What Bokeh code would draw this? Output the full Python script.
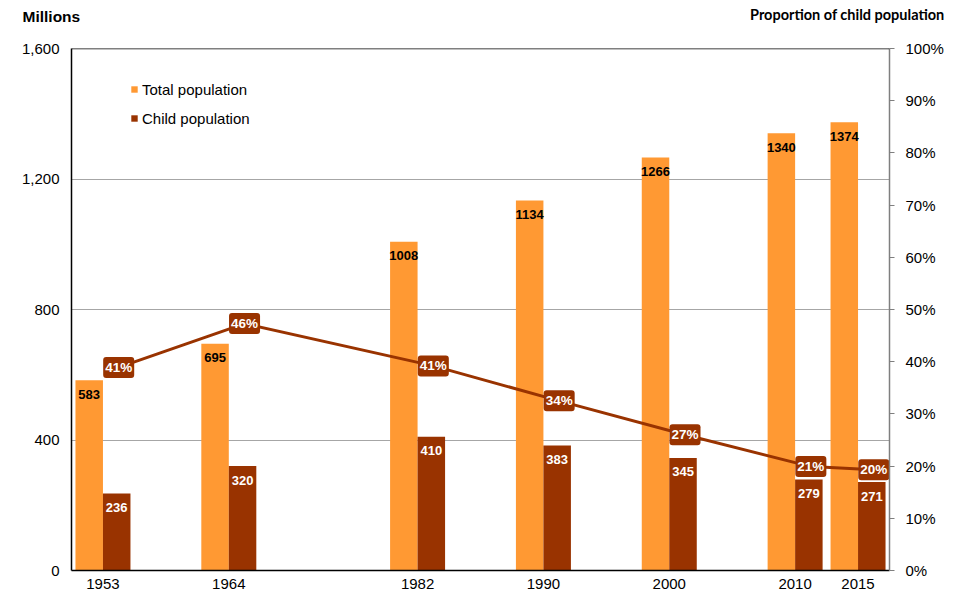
from bokeh.plotting import figure
from bokeh.layouts import column, row
from bokeh.models import (Range1d, LinearAxis, FixedTicker, NumeralTickFormatter, Span,
                          Legend, LegendItem, ColumnDataSource)
from bokeh.transform import dodge
from bokeh.core.properties import value
from bokeh.embed import file_html
from bokeh.resources import INLINE

# ---- data ----
axis_slots = ["1953", "", "1964", "", "", "1982", "", "1990", "", "2000", "", "2010", "2015"]
years = ["1953", "1964", "1982", "1990", "2000", "2010", "2015"]
total_pop = [583, 695, 1008, 1134, 1266, 1340, 1374]
child_pop = [236, 320, 410, 383, 345, 279, 271]
child_share = [38.9, 47.3, 39.2, 32.5, 26.0, 19.9, 19.3]          # plotted position (%)
child_share_labels = ["41%", "46%", "41%", "34%", "27%", "21%", "20%"]
left_ticks = [0, 400, 800, 1200, 1600]
right_ticks = [0, 10, 20, 30, 40, 50, 60, 70, 80, 90, 100]
left_title = "Millions"
right_title = "Proportion of child population"

ORANGE = "#FF9933"
BROWN = "#993300"
FONT = "Liberation Sans"
W = 964
HEAD_H = 30

slot = [axis_slots.index(y) for y in years]
src = ColumnDataSource(dict(
    slot=slot, total=total_pop, child=child_pop, share=child_share,
    total_label=[str(v) for v in total_pop], child_label=[str(v) for v in child_pop],
    share_label=child_share_labels,
))

# ---- header strip with the two axis titles ----
head = figure(width=W, height=HEAD_H, output_backend="svg", toolbar_location=None,
              x_range=Range1d(0, W), y_range=Range1d(HEAD_H, 0),
              x_axis_location=None, y_axis_location=None,
              min_border=0, min_border_left=0, min_border_right=0,
              min_border_top=0, min_border_bottom=0, outline_line_color=None)
head.grid.visible = False
head.text(x=[22], y=[16], text=[left_title], text_font=value(FONT), text_font_style="bold",
          text_font_size="15.5px", text_align="left", text_baseline="middle", text_color="black")
head.text(x=[944], y=[14], text=[right_title], text_font=value("Lato"), text_font_style="bold",
          text_font_size="14.5px", text_align="right", text_baseline="middle", text_color="black")

# ---- main chart ----
p = figure(width=W, height=596 - HEAD_H, output_backend="svg", toolbar_location=None,
           x_range=Range1d(-0.5, len(axis_slots) - 0.5), y_range=Range1d(0, 1600),
           min_border_left=71, min_border_right=75, min_border_top=48 - HEAD_H,
           min_border_bottom=26)
p.outline_line_color = None
p.background_fill_color = "white"

xa = p.xaxis[0]
xa.ticker = FixedTicker(ticks=slot)
xa.major_label_overrides = {s: y for s, y in zip(slot, years)}
xa.major_tick_out = 0
xa.major_tick_in = 0
xa.minor_tick_out = 0
xa.minor_tick_in = 0
xa.axis_line_color = "black"
xa.axis_line_width = 1.5
xa.major_label_text_font = FONT
xa.major_label_text_font_size = "15px"
xa.major_label_text_color = "black"
xa.major_label_standoff = 8

ya = p.yaxis[0]
ya.ticker = FixedTicker(ticks=left_ticks)
ya.formatter = NumeralTickFormatter(format="0,0")
ya.major_tick_out = 0
ya.major_tick_in = 0
ya.minor_tick_out = 0
ya.minor_tick_in = 0
ya.axis_line_color = "black"
ya.axis_line_width = 1.5
ya.major_label_text_font = FONT
ya.major_label_text_font_size = "15px"
ya.major_label_text_color = "black"
ya.major_label_standoff = 12

p.extra_y_ranges = {"pct": Range1d(0, 100)}
ra = LinearAxis(y_range_name="pct", ticker=FixedTicker(ticks=right_ticks),
                major_label_overrides={v: f"{v}%" for v in right_ticks})
ra.axis_line_color = "#7f7f7f"
ra.axis_line_width = 1.5
ra.major_tick_line_color = "#7f7f7f"
ra.major_tick_out = 5
ra.major_tick_in = 0
ra.minor_tick_out = 0
ra.minor_tick_in = 0
ra.major_label_text_font = FONT
ra.major_label_text_font_size = "15px"
ra.major_label_text_color = "black"
ra.major_label_standoff = 11
p.add_layout(ra, "right")

p.xgrid.visible = False
p.ygrid.grid_line_color = "#a6a6a6"
p.ygrid.grid_line_width = 1
p.add_layout(Span(location=1600, dimension="width", line_color="black", line_width=1.5))

BW = 0.437
rt = p.vbar(x=dodge("slot", -BW / 2, range=p.x_range), top="total", width=BW, source=src,
            fill_color=ORANGE, line_color=None)
rc = p.vbar(x=dodge("slot", BW / 2, range=p.x_range), top="child", width=BW, source=src,
            fill_color=BROWN, line_color=None)

p.text(x=dodge("slot", -BW / 2, range=p.x_range), y="total", text="total_label", source=src,
       y_offset=14, text_align="center", text_baseline="middle", text_color="black",
       text_font=value(FONT), text_font_style="bold", text_font_size="13px")
p.text(x=dodge("slot", BW / 2, range=p.x_range), y="child", text="child_label", source=src,
       y_offset=14, text_align="center", text_baseline="middle", text_color="white",
       text_font=value(FONT), text_font_style="bold", text_font_size="13px")

p.line(x=dodge("slot", 0.25, range=p.x_range), y="share", source=src, y_range_name="pct",
       line_color=BROWN, line_width=3)
p.text(x=dodge("slot", 0.25, range=p.x_range), y="share", text="share_label", source=src,
       y_range_name="pct", text_align="center", text_baseline="middle", text_color="white",
       text_font=value(FONT), text_font_style="bold", text_font_size="13.5px",
       background_fill_color=BROWN, border_radius=3, padding=(2, 3))

legend = Legend(items=[LegendItem(label="Total population", renderers=[rt]),
                       LegendItem(label="Child population", renderers=[rc])],
                location=(59, 442), glyph_width=8, glyph_height=8, label_standoff=4,
                spacing=9, padding=0, margin=0, border_line_color=None,
                background_fill_alpha=0, label_text_font=FONT, label_text_font_size="15px",
                label_height=20, label_text_color="black")
p.add_layout(legend)

layout = column(row(head, spacing=0), p, spacing=0)
open("out.html", "w").write(file_html(layout, INLINE))
